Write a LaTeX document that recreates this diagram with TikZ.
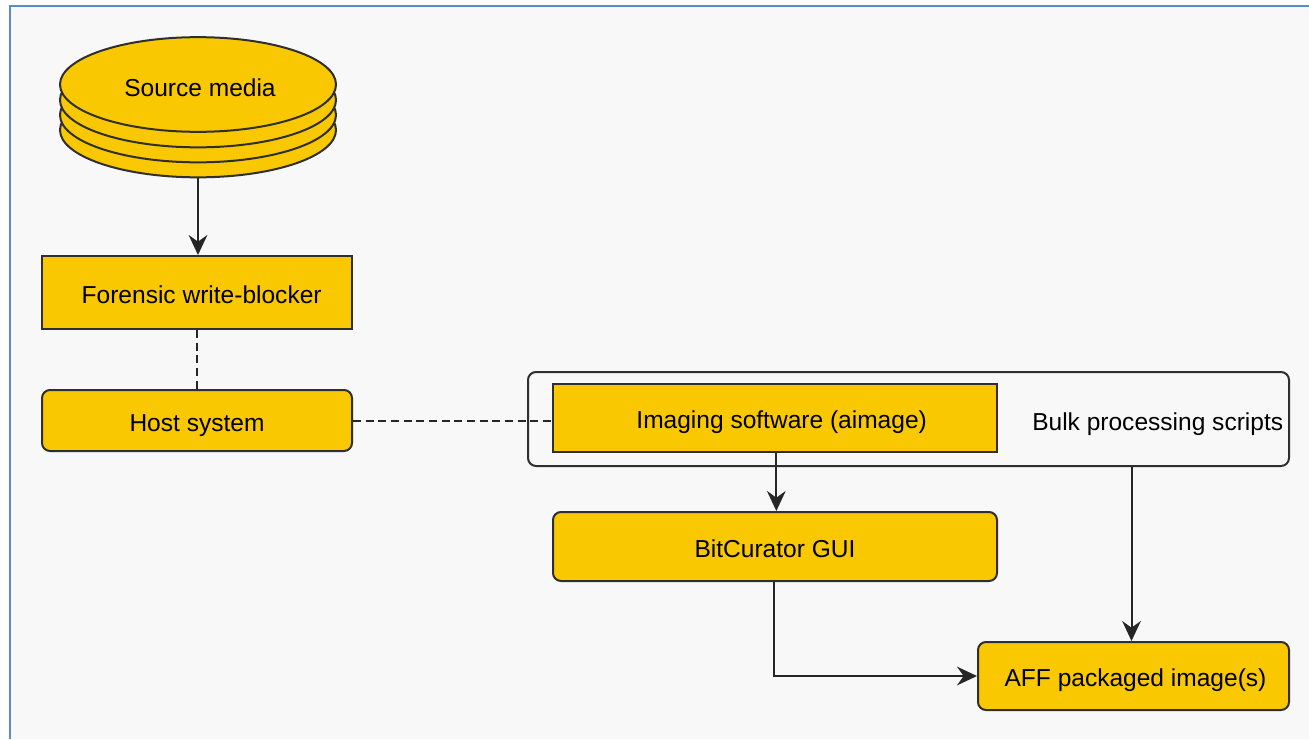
\documentclass[tikz,border=0pt]{standalone}
\usepackage{fontspec}
\setmainfont{Liberation Sans}
\usetikzlibrary{arrows.meta,shapes.geometric}
\definecolor{bgc}{HTML}{F8F8F8}
\definecolor{framec}{HTML}{5B8BC8}
\definecolor{ylw}{HTML}{F9C800}
\definecolor{edge}{HTML}{2F2F2F}
\begin{document}
\begin{tikzpicture}[x=0.75pt,y=-0.75pt,
  every node/.style={font=\fontsize{18.4}{22}\selectfont, text=black, text height=16pt, text depth=0pt},
  box/.style={draw=edge, line width=1.5pt, fill=ylw, inner sep=0pt, anchor=center},
  rbox/.style={box, rounded corners=6pt},
  disk/.style={draw=edge, line width=1.5pt, fill=ylw, ellipse, inner sep=0pt, minimum width=207pt, minimum height=71pt},
  conn/.style={draw=black!85, line width=1.5pt},
  arr/.style={conn, -{Stealth[length=15pt,width=14pt,inset=5pt]}},
  dashline/.style={conn, dash pattern=on 6pt off 3.5pt}
]
\useasboundingbox (0,0) rectangle (1309,739);
\fill[white] (0,0) rectangle (1309,739);
\fill[bgc] (10,6) rectangle (1309,739);
\draw[framec, line width=1.6pt] (10,739) -- (10,6) -- (1309,6);

% disk stack
\node[disk] (src3) at (198,130) {};
\node[disk] (src2) at (198,115) {};
\node[disk] (src1) at (198,100) {};
\node[disk] (src) at (198,84.5) {};
\node (srctxt) at (200,86) {Source media};

\node[box, minimum width=232.5pt, minimum height=54.75pt] (fwb) at (197,292.5) {\hspace*{7pt}Forensic write-blocker};
\node[rbox, minimum width=232.5pt, minimum height=45.75pt] (host) at (197,420.5) {Host system};

\node[draw=edge, line width=1.5pt, fill=bgc, rounded corners=6pt, inner sep=0pt, minimum width=570.75pt, minimum height=70.5pt] (bulk) at (908.5,419) {};
\node[box, minimum width=333pt, minimum height=51pt] (img) at (775,418) {\hspace*{10pt}Imaging software (aimage)};
\node[anchor=west, inner sep=0pt] (bulktxt) at (1032,420) {Bulk processing scripts};

\node[rbox, minimum width=333pt, minimum height=51.75pt] (gui) at (775,546.5) {BitCurator GUI};
\node[rbox, minimum width=233.25pt, minimum height=51pt] (aff) at (1133.5,676) {\hspace*{3pt}AFF packaged image(s)};

% connectors
\draw[arr] (src3.south) -- (src3.south |- fwb.north);
\draw[dashline] (fwb.south) -- (host.north);
\draw[dashline] (host.east) -- (host.east -| img.west);
\draw[arr] ([xshift=1pt]img.south) -- ([xshift=1pt]gui.north);
\draw[arr] ([xshift=-1pt]gui.south) |- (aff.west);
\draw[arr] ([xshift=-1.5pt]aff.north |- bulk.south) -- ([xshift=-1.5pt]aff.north);
\end{tikzpicture}
\end{document}
